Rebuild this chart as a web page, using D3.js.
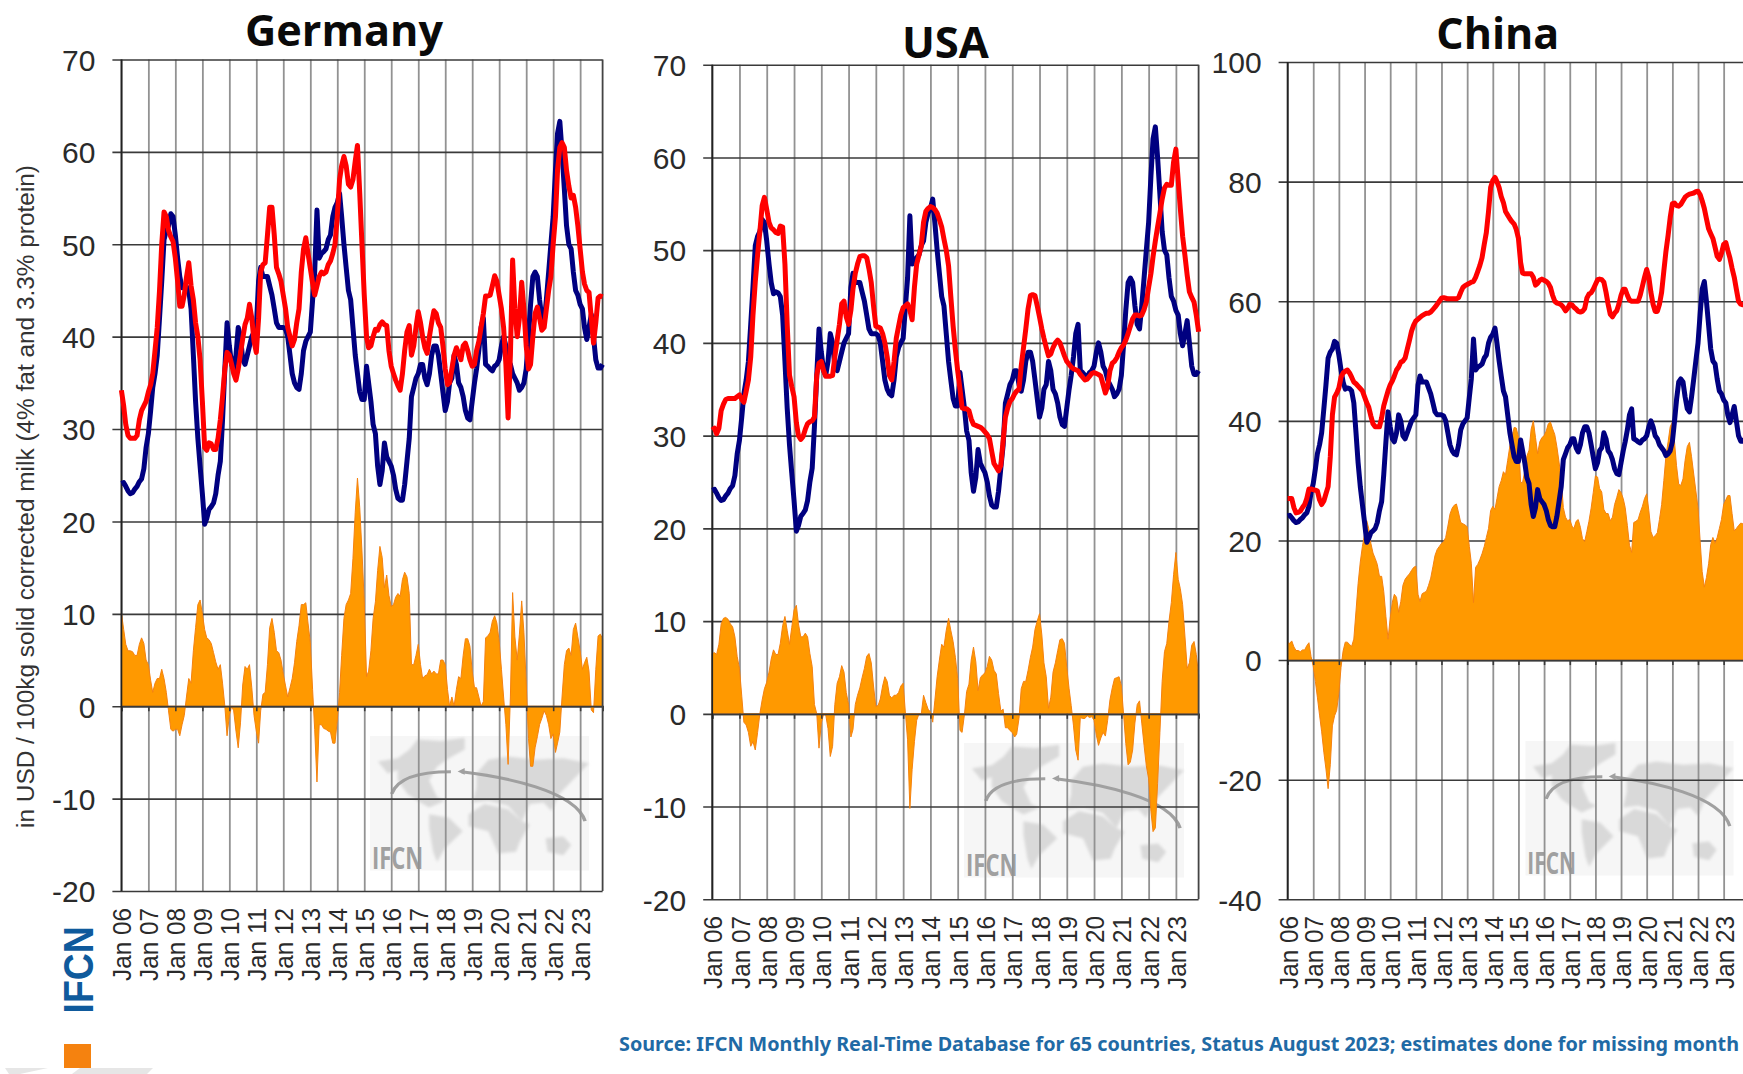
<!DOCTYPE html>
<html><head><meta charset="utf-8">
<style>html,body{margin:0;padding:0;background:#fff;overflow:hidden}svg{display:block}</style>
<script src="https://cdn.jsdelivr.net/npm/d3@7"></script>
</head><body>
<svg id="c" width="1743" height="1074"></svg>
<script>
// Monthly values, Jan 2006 onward (USD / 100 kg).
const worldPrice = [
24.1,24.2,23.8,23.3,23.0,23.1,23.5,23.8,24.3,24.6,25.7,28,
29.5,32,34.5,36,38,42,46,50.5,51.5,52,53.3,53,
51,48.5,46.5,45.3,45.5,45.4,45,43,38,33,29,26,
23,19.7,20.3,21.3,21.6,22,23,25,26.5,31,36.5,41.5,
39,37,36.5,38,41,40,37.5,37,38,39,40,40.5,
41,46,47.5,46.5,46.5,46.5,45.5,44.5,43,41.5,41,41,
41,40.8,40,38,36,35,34.5,34.3,36,38.5,39.5,40,
40.5,44,47,53.7,48.5,49,49.2,49.5,50.5,51,53,54,
54.5,55.5,53,50,47.5,45,44,41,38,36,34,33.2,
33.2,36.8,35,33,30.5,29.5,26,24,25.5,28.5,27,26.5,
26,25,23.5,22.5,22.3,22.3,24,26.5,29,33.5,34.5,35.5,
36,37,37,35.5,34.8,36,38,39,39,38,36,34,
32,33,35,35.5,38,37,35,34.5,33.5,32,31.2,31,
33,35,36.5,38.5,41,42,37,36.8,36.5,36.3,36.8,37,
37.5,39,40,39,37.5,37,36,35.5,35,34.2,34.5,35,
36.5,40,43.5,46.5,47,46.5,44,42,41.5,44,47,50,
53,58,62,63.3,60,56,52,50,49.5,47,45,44.5,
43.5,43,41,39.7,41,42.4,40,37.5,36.6,36.6,37];

const germanyPrice = [
34.2,32.5,30.5,29.3,29,29,29,29.3,31,32,32.5,33,
34,34.8,36,38.5,41,45,50,53.5,53,51.5,50.8,50.3,
48.5,46,43.3,43.3,44.5,46.5,48,45.5,44,41.5,40,37.5,
33,28,27.7,28.5,28.4,27.8,27.8,29,31,33.5,36.5,38.3,
38,37,36,35.3,36.5,38.2,39.8,41.3,42,43.5,42,39.5,
38.3,42,47,47.8,48,51,54,54,51,47.5,46.8,46,
44.5,43,41,40,39,39.7,41.5,43,47,49.5,50.7,49,
47.4,45.8,44.5,45.5,46.5,47,46.8,47,47.8,48.2,49,50,
53,57,58.5,59.5,58.5,56.5,56.2,57,59,60.7,55.5,50,
44.5,40,38.8,39,40,40.8,40.7,41.3,41.6,41.3,41.2,38.5,
36.8,36,35.3,34.7,34.2,36,38.5,40.5,41.2,38,39,41,
42.7,41.5,40,38.8,38.2,40,41.5,42.8,42.5,41.5,41,39,
36.5,34.8,35,36.5,38,38.8,38.2,37.5,39,39.3,38.5,37.5,
36.8,37,38.5,39.5,41,42.5,44.4,44.4,44.5,45.5,46.6,46,
44.5,43,41,37,31.2,38,48.3,43,40,42,45.9,43,
39,36.5,37,40,42.5,43.2,42,40.7,41,43,45,46.5,
50,53,58,60.5,61,60.5,58,56.3,55,55.3,54,52,
49.5,47,45.7,45,44.8,42,39.3,41.5,44.2,44.4,44.3];

const usaPrice = [
30.6,30.8,30.2,30.8,32.7,33.4,33.9,34,34,34,34,34.2,
34.4,33.9,33.6,34.8,36,38.5,43,46.6,49.5,52,54.8,55.7,
54.4,53,52.4,52.2,51.9,51.8,52.6,52.5,48.5,42,36.5,35.3,
34.2,31.4,30,29.6,29.9,30.7,31.3,31.5,31.6,32,36.5,37.8,
38,37,36.4,36.4,36.4,36.5,38.5,40.3,42,44.2,44.5,42.8,
42,43.5,45.8,47.5,48.5,49.3,49.4,49.4,49.2,48,46.5,44,
41.8,41.7,41.6,41,40,38.5,36.5,36,38,40.5,41.8,43,
43.8,44,44.2,43.5,42.5,46,48.5,49.5,50.5,53,54.2,54.5,
54.7,54.6,54.4,54,53.3,52.5,51.2,50,48.3,45,41.8,39.3,
37,35,33,32.9,32.9,32.7,31.8,31.2,31.1,31,30.9,30.7,
30.4,30.1,29.7,28.3,27,26.6,26.2,26.8,29.5,32,33,33.7,
34,34.5,34.8,35,37.5,39.5,41.5,43.7,45.1,45.2,45.1,44,
42.8,41.5,40.5,39.5,38.6,38.8,39.5,40,40.3,40,39.3,38.6,
38,37.7,37.4,37.2,37.1,37,36.6,36.3,36,36.1,36.4,36.7,
36.8,36.7,36.6,36.4,35.5,34.6,35.3,37,37.8,38,38.4,39,
39.5,39.8,40.3,41,41.8,42.6,43,43,42.9,43,43.6,44.4,
46,47.5,49.3,51,52.5,54,55.5,56.7,57.1,57,57,59.5,
60.9,57.5,54.5,51.5,49.5,47.3,45.5,44.9,44.4,43,41.2];

const chinaPrice = [
27,27,27,25.5,24.6,24.7,24.9,25.5,26,27,28.6,28.6,
28.5,28.4,28.3,26.8,26,26.6,27.8,29,34,41,44,44.6,
45.5,47.3,48,48.3,48.5,48,47.3,46.5,46.2,45.8,45.4,45,
44,43,42.3,40.8,39.5,39,39,39,40.5,42.5,43.8,45,
46,46.7,47.5,48.5,49,49.8,50,50.5,52,53.4,55,56,
56.7,57,57.3,57.6,57.8,58,58,58.2,58.6,59,59.5,60,
60.5,60.6,60.5,60.4,60.4,60.4,60.4,60.4,60.6,61.5,62.3,62.6,
62.8,63,63.2,63.3,64,65,66,67.3,69.5,71.5,75,79,
80.2,80.7,80,79,77.5,76.5,75,74.4,73.8,73.3,72.9,72,
70.5,66.5,64.7,64.6,64.6,64.6,64.6,64,62.7,63,63.5,63.7,
63.5,63.3,63,62.3,61,60,59.7,59.6,59.4,59,58.4,58.8,
59.5,59.4,59,58.7,58.3,58.2,58.3,58.8,60.5,61.2,61.4,62,
62.8,63.6,63.7,63.6,63.2,61.5,59.5,57.8,57.4,58,58.4,59.5,
61,62,62,61,60.2,60,60,60,60,61,62.5,64,
65.3,64,61.5,59.5,58.3,58.3,59.5,61.5,65,68.3,71,74,
76.3,76.4,76,75.9,76.2,76.8,77.4,77.7,77.9,78,78.1,78.3,
78.4,77.8,76.8,75.5,73.8,72.1,71.3,70.5,69,67.5,67,68,
69.5,69.8,68.5,67.2,65.5,64,62,60,59.5,59.4,59.4];

const yearLabels = ["Jan 06","Jan 07","Jan 08","Jan 09","Jan 10","Jan 11","Jan 12","Jan 13","Jan 14","Jan 15","Jan 16","Jan 17","Jan 18","Jan 19","Jan 20","Jan 21","Jan 22","Jan 23"];
const germanyTicks = [70,60,50,40,30,20,10,0,-10,-20];
const usaTicks = [70,60,50,40,30,20,10,0,-10,-20];
const chinaTicks = [100,80,60,40,20,0,-20,-40];
const panelTitles = ["Germany","USA","China"];
const yAxisTitle = "in USD / 100kg solid corrected milk (4% fat and 3.3% protein)";
const sourceText = "Source: IFCN Monthly Real-Time Database for 65 countries, Status August 2023; estimates done for missing month";

const panels = [
 {title:panelTitles[0], price:germanyPrice, ticks:germanyTicks, l:121.4, r:602.6, t:59.5, b:891, tx:344, ty:46, tw:198, lblEnd:908,
  wm:[370,736,219,134.5]},
 {title:panelTitles[1], price:usaPrice, ticks:usaTicks, l:712.2, r:1198.6, t:64.7, b:899.3, tx:945.4, ty:58, tw:87, lblEnd:916,
  wm:[964,743,220,134.5]},
 {title:panelTitles[2], price:chinaPrice, ticks:chinaTicks, l:1287.6, r:1745, t:62, b:899.3, tx:1497.8, ty:49, tw:123, lblEnd:916,
  wm:[1525.5,741,208,134.5]}
];
const svg = d3.select("#c");
const sans = "'Liberation Sans',Arial,sans-serif", bold = "'Open Sans','Noto Sans',sans-serif";
const monthDate = i => new Date(2006, i, 1);
const jans = yearLabels.map((_, i) => new Date(2006 + i, 0, 1));

// Watermark shapes, in a 555x395 local space
const continents = [
 "M20,75L70,65L100,40L120,10L180,15L240,5L240,40L200,65L170,90L150,130L170,180L190,190L150,210L120,190L95,170L70,130L70,100L45,110Z",
 "M150,230L200,240L235,280L190,330L170,370L160,340L150,270Z",
 "M250,230L290,200L350,215L385,250L405,260L380,310L370,340L325,345L300,280L250,265Z",
 "M270,110L300,70L350,60L420,70L490,65L555,80L530,110L505,140L480,170L460,220L440,195L405,200L385,250L350,205L300,190L260,195L270,150Z",
 "M445,300L490,295L510,320L490,350L450,340Z"];

svg.append("defs").append("filter").attr("id","soft").append("feGaussianBlur").attr("stdDeviation",4);

panels.forEach(p => {
  const w = p.r - p.l, h = p.b - p.t;
  const x = d3.scaleTime().domain([monthDate(0), monthDate(214)]).range([p.l, p.r]);
  const y = d3.scaleLinear().domain([p.ticks[0], p.ticks[p.ticks.length-1]]).range([p.t, p.b]);
  const g = svg.append("g");

  // watermark
  const [wx,wy,ww,wh] = p.wm;
  const wm = g.append("g").attr("transform",`translate(${wx},${wy}) scale(${ww/555},${wh/395})`);
  wm.append("rect").attr("width",555).attr("height",395).attr("fill","#f6f6f6");
  const land = wm.append("g").attr("filter","url(#soft)");
  land.selectAll("path").data(continents).join("path").attr("d",d=>d).attr("fill","#d9d9d9");

  // vertical grid
  const vg = g.append("g").attr("transform",`translate(0,${p.b})`)
    .call(d3.axisBottom(x).tickValues(jans).tickSize(-h).tickFormat(""));
  vg.select(".domain").remove();
  vg.selectAll("line").attr("stroke","#929292").attr("stroke-width",1.8);

  // horizontal grid and y labels
  const hg = g.append("g").attr("transform",`translate(${p.r},0)`)
    .call(d3.axisLeft(y).tickValues(p.ticks).tickSize(w+9).tickPadding(17).tickFormat(d3.format("d")));
  hg.select(".domain").remove();
  hg.selectAll("line").attr("stroke","#3a3a3a").attr("stroke-width",1.6);
  hg.selectAll("text").attr("font-family",sans).attr("font-size",30).attr("fill","#2a2a2a").attr("dy","0.36em")
    .text(d => String(d));

  // watermark arrow over the grid
  wm.append("path").attr("d","M55,170C70,120 130,105 205,105").attr("fill","none").attr("stroke","#a0a0a0").attr("stroke-width",9);
  wm.append("path").attr("d","M232,105C340,120 520,160 545,250").attr("fill","none").attr("stroke","#a0a0a0").attr("stroke-width",9);
  wm.append("path").attr("d","M222,104L240,94L240,114Z").attr("fill","#a0a0a0");
  wm.append("text").attr("x",5).attr("y",390).attr("textLength",130).attr("lengthAdjust","spacingAndGlyphs")
    .attr("font-family",bold).attr("font-weight",700).attr("font-size",88).attr("fill","#a0a0a0").text("IFCN");

  const idx = d3.range(p.price.length);
  // Margin area: the panel's own price minus the world price, as the source chart plots it.
  g.append("path").datum(idx)
    .attr("d", d3.area().x(i=>x(monthDate(i))).y0(y(0)).y1(i=>y(p.price[i]-worldPrice[i])))
    .attr("fill","#ff9900").attr("stroke","#f5820f").attr("stroke-width",1);

  // zero line with ticks
  const zg = g.append("g").attr("transform",`translate(0,${y(0)})`)
    .call(d3.axisBottom(x).tickValues(jans).tickSize(5).tickFormat(""));
  zg.select(".domain").attr("stroke","#3a3a3a").attr("stroke-width",1.8);
  zg.selectAll("line").attr("stroke","#3a3a3a").attr("stroke-width",1.6);

  // frame
  g.append("line").attr("x1",p.l).attr("x2",p.l).attr("y1",p.t).attr("y2",p.b).attr("stroke","#222").attr("stroke-width",1.8);
  g.append("line").attr("x1",p.r).attr("x2",p.r).attr("y1",p.t).attr("y2",p.b).attr("stroke","#444").attr("stroke-width",1.8);

  // lines
  const line = s => d3.line().x((d,i)=>x(monthDate(i))).y(d=>y(d))(s);
  g.append("path").attr("d",line(worldPrice)).attr("fill","none").attr("stroke","#000080").attr("stroke-width",5).attr("stroke-linejoin","round");
  g.append("path").attr("d",line(p.price)).attr("fill","none").attr("stroke","#ff0000").attr("stroke-width",5).attr("stroke-linejoin","round");

  // x labels
  const xg = g.append("g").attr("transform",`translate(0,${p.lblEnd})`)
    .call(d3.axisBottom(x).tickValues(jans).tickSize(0).tickPadding(0).tickFormat((d,i)=>yearLabels[i]));
  xg.select(".domain").remove();
  xg.selectAll("text").attr("font-family",sans).attr("font-size",26.5).attr("fill","#2a2a2a")
    .attr("text-anchor","end").attr("x",0).attr("y",0).attr("dy","0.36em").attr("transform","rotate(-90)")
    .attr("textLength",73).attr("lengthAdjust","spacingAndGlyphs");

  // title
  svg.append("text").attr("x",p.tx).attr("y",p.ty).attr("text-anchor","middle")
    .attr("font-family",bold).attr("font-weight",700).attr("font-size",43).attr("fill","#0a0a0a")
    .attr("textLength",p.tw).attr("lengthAdjust","spacingAndGlyphs").text(p.title);
});

// y title
svg.append("text").attr("transform","translate(34,496.5) rotate(-90)").attr("text-anchor","middle")
  .attr("font-family",sans).attr("font-size",23).attr("fill","#333")
  .attr("textLength",663).attr("lengthAdjust","spacingAndGlyphs").text(yAxisTitle);

// logo
svg.append("text").attr("transform","translate(93,1013.4) rotate(-90)")
  .attr("font-family",sans).attr("font-weight",700).attr("font-size",42).attr("fill","#0f5a9c")
  .attr("textLength",87).attr("lengthAdjust","spacingAndGlyphs").text("IFCN");
svg.append("rect").attr("x",64).attr("y",1044).attr("width",27).attr("height",24).attr("fill","#f5820f");
svg.selectAll("polygon.band").data(["5,1068 48,1068 20,1074 9,1074","80,1068 153,1068 147,1074 72,1074"]).join("polygon")
  .attr("points",d=>d).attr("fill","#e6e6e6");

// source
svg.append("text").attr("x",619).attr("y",1051)
  .attr("font-family","'Noto Sans',sans-serif").attr("font-weight",700).attr("font-size",20).attr("fill","#1f6aa5")
  .attr("textLength",1120).attr("lengthAdjust","spacingAndGlyphs").text(sourceText);
</script>
</body></html>
